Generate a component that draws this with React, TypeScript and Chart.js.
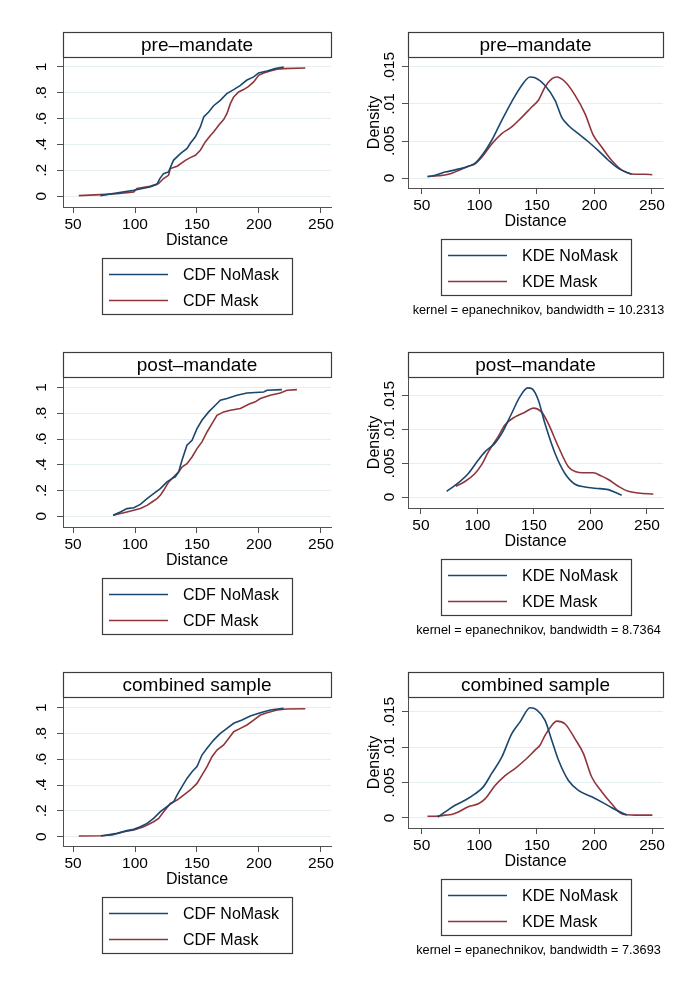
import React, { useEffect, useRef } from 'react';
import { Chart, registerables } from 'chart.js';

Chart.register(...registerables);

const FONT = '"Liberation Sans", Arial, Helvetica, sans-serif';
const BLUE = '#1a476f';
const RED = '#90353b';
const AXIS = '#505050';
const GRID = '#e5eef0';

// ---- tick labels / texts ----
const xTicks = [50, 100, 150, 200, 250];
const cdfYTicks = [0, 0.2, 0.4, 0.6, 0.8, 1];
const cdfYLabels = ['0', '.2', '.4', '.6', '.8', '1'];
const kdeYTicks = [0, 0.005, 0.01, 0.015];
const kdeYLabels = ['0', '.005', '.01', '.015'];
const panelTitles = ['pre\u2013mandate', 'post\u2013mandate', 'combined sample'];
const cdfLabels = ['CDF NoMask', 'CDF Mask'];
const kdeLabels = ['KDE NoMask', 'KDE Mask'];
const bandwidths = ['10.2313', '8.7364', '7.3693'];

// ---- pre-mandate CDF ----
const preCdfNoMaskX = [72, 99, 112, 117.7, 120, 123, 127, 131, 136.6, 142, 144.6, 148.7, 152.7, 155.4, 159.4, 163.4, 168.8, 174, 179.6, 185, 190, 195.7, 199.7, 206.5, 213, 220];
const preCdfNoMaskY = [0.005, 0.046, 0.072, 0.093, 0.137, 0.175, 0.188, 0.278, 0.33, 0.37, 0.41, 0.46, 0.536, 0.613, 0.652, 0.7, 0.742, 0.794, 0.825, 0.858, 0.897, 0.923, 0.954, 0.969, 0.987, 1.0];
const preCdfMaskX = [54.6, 72, 85.5, 99, 101.6, 112, 119, 123, 127, 128.5, 134, 140.6, 144.6, 148.7, 152.7, 156.7, 160.8, 163.4, 167.5, 171.5, 174.2, 176.9, 179.6, 183.6, 187.6, 191.7, 195.7, 199.7, 203.8, 209, 214.5, 220, 237.4];
const preCdfMaskY = [0.005, 0.013, 0.02, 0.034, 0.06, 0.077, 0.098, 0.137, 0.162, 0.214, 0.232, 0.278, 0.299, 0.317, 0.356, 0.42, 0.47, 0.497, 0.549, 0.593, 0.64, 0.716, 0.768, 0.807, 0.825, 0.85, 0.884, 0.935, 0.954, 0.969, 0.982, 0.987, 0.992];

// ---- post-mandate CDF ----
const postCdfNoMaskX = [82.3, 88.2, 93.5, 99, 104.3, 109.7, 115, 120.4, 125.8, 129.8, 132.5, 135.2, 137.9, 141.9, 146, 150, 154, 159.4, 164.8, 168.8, 174.2, 182.3, 190.3, 203.8, 206.5, 218.5];
const postCdfNoMaskY = [0.008, 0.034, 0.06, 0.067, 0.093, 0.137, 0.176, 0.215, 0.267, 0.293, 0.306, 0.345, 0.435, 0.552, 0.59, 0.681, 0.746, 0.811, 0.863, 0.902, 0.915, 0.94, 0.958, 0.966, 0.979, 0.984];
const postCdfMaskX = [82.3, 93.5, 104.3, 109.7, 113.7, 117.7, 120.4, 123.1, 127.2, 131.2, 135.2, 137.9, 141.9, 146, 150, 154, 158.1, 162.1, 166.1, 171.5, 176.9, 185, 191.7, 197, 201.1, 209.1, 217.2, 222.6, 230.6];
const postCdfMaskY = [0.008, 0.034, 0.06, 0.085, 0.111, 0.137, 0.163, 0.202, 0.267, 0.306, 0.345, 0.383, 0.409, 0.461, 0.526, 0.578, 0.655, 0.72, 0.785, 0.811, 0.824, 0.837, 0.87, 0.889, 0.915, 0.94, 0.958, 0.979, 0.984];

// ---- combined CDF ----
const allCdfNoMaskX = [72.6, 85.5, 93.5, 99, 104.3, 109.7, 115, 120.4, 125.8, 131.2, 133.9, 137.9, 141.9, 146, 150, 154, 158.1, 163.4, 168.8, 174.2, 179.6, 186.3, 193, 201.1, 209.1, 219.9];
const allCdfNoMaskY = [0.005, 0.026, 0.047, 0.057, 0.078, 0.103, 0.142, 0.194, 0.233, 0.271, 0.323, 0.388, 0.452, 0.504, 0.543, 0.633, 0.685, 0.749, 0.801, 0.84, 0.879, 0.904, 0.935, 0.961, 0.982, 0.995];
const allCdfMaskX = [54.6, 72, 81.5, 90.9, 99, 107, 115, 119.1, 123.1, 128.5, 133.9, 139.2, 144.6, 150, 154, 158.1, 162.1, 166.1, 171.5, 175.5, 179.6, 185, 190.3, 195.7, 201.1, 206.5, 214.5, 222.6, 237.4];
const allCdfMaskY = [0.005, 0.008, 0.013, 0.039, 0.052, 0.078, 0.116, 0.142, 0.194, 0.258, 0.284, 0.323, 0.362, 0.413, 0.478, 0.543, 0.62, 0.672, 0.711, 0.762, 0.814, 0.84, 0.866, 0.904, 0.943, 0.961, 0.982, 0.99, 0.992];

// ---- pre-mandate KDE ----
const preKdeNoMaskX = [55, 61.6, 70.3, 79, 90.5, 96.3, 103.5, 110.8, 119.5, 128.1, 136.8, 144, 148.4, 157.1, 165.8, 171.6, 177.4, 186, 194.7, 203.4, 212.1, 220.8, 232.3];
const preKdeNoMaskY = [0.0002, 0.00036, 0.0008, 0.0011, 0.0016, 0.002, 0.0033, 0.0051, 0.0078, 0.0103, 0.0125, 0.01365, 0.01356, 0.0125, 0.0105, 0.0082, 0.0071, 0.006, 0.0049, 0.0037, 0.0024, 0.0013, 0.0005];
const preKdeMaskX = [55, 64.5, 73.2, 81.8, 90.5, 96.3, 102.1, 110.8, 119.5, 128.1, 136.8, 145.5, 151.3, 157.1, 162.9, 167.2, 174.5, 183.1, 191.8, 199, 206.3, 214.9, 223.7, 235.2, 243.9, 250.3];
const preKdeMaskY = [0.0002, 0.0003, 0.0005, 0.001, 0.0016, 0.0019, 0.0028, 0.0046, 0.006, 0.0069, 0.0082, 0.0096, 0.0105, 0.0123, 0.0134, 0.01365, 0.013, 0.0112, 0.0087, 0.0058, 0.0042, 0.0024, 0.0011, 0.0005, 0.0005, 0.00045];

// ---- post-mandate KDE ----
const postKdeNoMaskX = [72.7, 83, 91.9, 100.7, 106.6, 115.5, 121.4, 130.2, 137.6, 144.4, 147.9, 153.8, 159.7, 168.6, 177.4, 186.3, 195.1, 204, 215.8, 221.7, 227.6];
const postKdeNoMaskY = [0.00084, 0.0021, 0.0035, 0.0055, 0.0067, 0.008, 0.0094, 0.0124, 0.0149, 0.0162, 0.0161, 0.0144, 0.0109, 0.0065, 0.0035, 0.0019, 0.0015, 0.0013, 0.0011, 0.0007, 0.00025];
const postKdeMaskX = [81, 88.9, 97.8, 103.7, 109.6, 118.4, 124.3, 133.2, 142, 149.4, 156.8, 162.7, 171.5, 180.4, 186.3, 195.1, 202.5, 209.9, 215.8, 224.6, 233.5, 242.3, 255.6];
const postKdeMaskY = [0.0016, 0.0023, 0.0035, 0.0048, 0.0067, 0.009, 0.0107, 0.0119, 0.0126, 0.0132, 0.0126, 0.0109, 0.0075, 0.0045, 0.0038, 0.0036, 0.0036, 0.0031, 0.0026, 0.0016, 0.00084, 0.0006, 0.00044];

// ---- combined KDE ----
const allKdeNoMaskX = [63.9, 70.3, 79, 87.6, 96.3, 103.5, 110.8, 119.5, 128.1, 135.4, 144.1, 149.9, 157.1, 162.9, 168.7, 177.4, 186, 197.6, 209.2, 217.9, 228];
const allKdeNoMaskY = [0.00014, 0.00085, 0.0018, 0.0025, 0.0034, 0.0044, 0.0063, 0.0086, 0.0119, 0.0136, 0.0156, 0.0153, 0.0138, 0.011, 0.0082, 0.0053, 0.0039, 0.003, 0.002, 0.0012, 0.0004];
const allKdeMaskX = [55, 61.6, 70.3, 76, 81.8, 90.5, 99.2, 105, 113.7, 122.4, 131, 139.7, 148.4, 152.7, 157.1, 162.9, 167.2, 174.5, 183.1, 190.4, 197.6, 206.3, 214.9, 223.7, 235.2, 250.3];
const allKdeMaskY = [0.00024, 0.00024, 0.0004, 0.0005, 0.00085, 0.0016, 0.002, 0.0027, 0.0046, 0.006, 0.007, 0.0082, 0.0096, 0.0103, 0.0117, 0.0131, 0.0137, 0.0133, 0.0112, 0.0091, 0.0058, 0.0037, 0.002, 0.0006, 0.0004, 0.0004];

// ---- layout (canvas placement and plot areas, canvas-relative) ----
type Spec = {
  left: number; top: number; width: number; height: number;
  areaL: number; areaT: number; areaR: number; areaB: number;
  xMin: number; xMax: number; yMin: number; yMax: number;
  kind: 'cdf' | 'kde';
  title: string;
  series: { x: number[]; y: number[] }[];
  note?: string;
};

const specs: Spec[] = [
  { left: 0, top: 0, width: 345, height: 330, areaL: 63, areaT: 57, areaR: 331, areaB: 207, xMin: 41.9, xMax: 258.1, yMin: -0.083, yMax: 1.077, kind: 'cdf', title: panelTitles[0], series: [{ x: preCdfNoMaskX, y: preCdfNoMaskY }, { x: preCdfMaskX, y: preCdfMaskY }] },
  { left: 345, top: 0, width: 350, height: 330, areaL: 63, areaT: 57, areaR: 318, areaB: 188, xMin: 38, xMax: 259.6, yMin: -0.00135, yMax: 0.01635, kind: 'kde', title: panelTitles[0], series: [{ x: preKdeNoMaskX, y: preKdeNoMaskY }, { x: preKdeMaskX, y: preKdeMaskY }], note: bandwidths[0] },
  { left: 0, top: 330, width: 345, height: 330, areaL: 63, areaT: 47, areaR: 331, areaB: 197, xMin: 41.9, xMax: 258.1, yMin: -0.083, yMax: 1.082, kind: 'cdf', title: panelTitles[1], series: [{ x: postCdfNoMaskX, y: postCdfNoMaskY }, { x: postCdfMaskX, y: postCdfMaskY }] },
  { left: 345, top: 330, width: 350, height: 330, areaL: 63, areaT: 47, areaR: 318, areaB: 178, xMin: 38.5, xMax: 264.2, yMin: -0.00163, yMax: 0.01782, kind: 'kde', title: panelTitles[1], series: [{ x: postKdeNoMaskX, y: postKdeNoMaskY }, { x: postKdeMaskX, y: postKdeMaskY }], note: bandwidths[1] },
  { left: 0, top: 660, width: 345, height: 332, areaL: 63, areaT: 37, areaR: 331, areaB: 186, xMin: 41.9, xMax: 258.1, yMin: -0.072, yMax: 1.083, kind: 'cdf', title: panelTitles[2], series: [{ x: allCdfNoMaskX, y: allCdfNoMaskY }, { x: allCdfMaskX, y: allCdfMaskY }] },
  { left: 345, top: 660, width: 350, height: 332, areaL: 63, areaT: 37, areaR: 318, areaB: 168, xMin: 38.1, xMax: 259.5, yMin: -0.00142, yMax: 0.01712, kind: 'kde', title: panelTitles[2], series: [{ x: allKdeNoMaskX, y: allKdeNoMaskY }, { x: allKdeMaskX, y: allKdeMaskY }], note: bandwidths[2] },
];

const X_AXIS_H = 43;

const decorPlugin = {
  id: 'decor',
  afterDraw(chart: any, _args: any, opts: any) {
    const { ctx, chartArea: a } = chart;
    const cx = (a.left + a.right) / 2;
    ctx.save();
    // title box
    const th = 25;
    ctx.fillStyle = '#ffffff';
    ctx.fillRect(a.left, a.top - th, a.right - a.left, th);
    ctx.strokeStyle = '#3c3c3c';
    ctx.lineWidth = 1.2;
    ctx.strokeRect(Math.round(a.left) + 0.5, Math.round(a.top - th) + 0.5, Math.round(a.right - a.left), th);
    ctx.fillStyle = '#000';
    ctx.font = `19px ${FONT}`;
    ctx.textAlign = 'center';
    ctx.textBaseline = 'middle';
    ctx.fillText(opts.title, cx, a.top - th / 2 + 1);
    // legend box
    const lw = 190, lh = 56;
    const lx = Math.round(cx - lw / 2);
    const ly = Math.round(a.bottom + 51);
    ctx.strokeStyle = '#3c3c3c';
    ctx.lineWidth = 1.2;
    ctx.strokeRect(lx + 0.5, ly + 0.5, lw, lh);
    chart.data.datasets.forEach((ds: any, i: number) => {
      const yy = ly + 16.5 + i * 26;
      ctx.strokeStyle = ds.borderColor;
      ctx.lineWidth = 1.6;
      ctx.beginPath();
      ctx.moveTo(lx + 7, yy);
      ctx.lineTo(lx + 66, yy);
      ctx.stroke();
      ctx.fillStyle = '#000';
      ctx.font = `16px ${FONT}`;
      ctx.textAlign = 'left';
      ctx.textBaseline = 'middle';
      ctx.fillText(ds.label, lx + 81, yy + 1);
    });
    if (opts.note) {
      ctx.fillStyle = '#000';
      ctx.font = `12.7px ${FONT}`;
      ctx.textAlign = 'center';
      ctx.textBaseline = 'middle';
      ctx.fillText(opts.note, cx + 3, ly + lh + 15);
    }
    ctx.restore();
  },
};

function Panel({ spec }: { spec: Spec }) {
  const ref = useRef<HTMLCanvasElement>(null);
  useEffect(() => {
    const isCdf = spec.kind === 'cdf';
    const labels = isCdf ? cdfLabels : kdeLabels;
    const yTicks = isCdf ? cdfYTicks : kdeYTicks;
    const yLabels = isCdf ? cdfYLabels : kdeYLabels;
    const colors = [BLUE, RED];
    const chart = new Chart(ref.current as HTMLCanvasElement, {
      type: 'line',
      data: {
        datasets: spec.series.map((s, i) => ({
          label: labels[i],
          data: s.x.map((x, j) => ({ x, y: s.y[j] })),
          borderColor: colors[i],
          backgroundColor: colors[i],
          borderWidth: 1.6,
          pointRadius: 0,
          fill: false,
          tension: isCdf ? 0 : 0.4,
          cubicInterpolationMode: isCdf ? 'default' : 'monotone',
        })),
      },
      options: {
        animation: false,
        responsive: false,
        maintainAspectRatio: false,
        events: [],
        layout: {
          padding: {
            left: 0,
            top: spec.areaT,
            right: spec.width - spec.areaR,
            bottom: spec.height - spec.areaB - X_AXIS_H,
          },
        },
        plugins: {
          legend: { display: false },
          tooltip: { enabled: false },
          decor: { title: spec.title, note: spec.note ? `kernel = epanechnikov, bandwidth = ${spec.note}` : '' },
        } as any,
        scales: {
          x: {
            type: 'linear',
            min: spec.xMin,
            max: spec.xMax,
            afterBuildTicks: (s: any) => { s.ticks = xTicks.map((v) => ({ value: v })); },
            afterFit: (s: any) => { s.height = X_AXIS_H; },
            ticks: { font: { family: FONT, size: 15.5 }, color: '#000', padding: 2, maxRotation: 0, autoSkip: false },
            grid: { drawOnChartArea: false, drawTicks: true, tickLength: 6, color: AXIS, tickColor: AXIS, lineWidth: 1 },
            border: { display: true, color: AXIS, width: 1 },
            title: { display: true, text: 'Distance', font: { family: FONT, size: 16 }, color: '#000', padding: 0 },
          },
          y: {
            type: 'linear',
            min: spec.yMin,
            max: spec.yMax,
            afterBuildTicks: (s: any) => { s.ticks = yTicks.map((v) => ({ value: v })); },
            afterFit: (s: any) => { s.width = spec.areaL; },
            ticks: {
              font: { family: FONT, size: 15.5 },
              color: '#000',
              minRotation: 90,
              maxRotation: 90,
              crossAlign: 'center',
              padding: isCdf ? 9 : -3,
              autoSkip: false,
              callback: (v: any) => {
                const idx = yTicks.findIndex((t) => Math.abs(t - v) < 1e-9);
                return idx >= 0 ? yLabels[idx] : '';
              },
            },
            grid: { drawOnChartArea: true, drawTicks: true, tickLength: 6, color: GRID, tickColor: AXIS, lineWidth: 1 },
            border: { display: true, color: AXIS, width: 1 },
            title: { display: !isCdf, text: 'Density', font: { family: FONT, size: 16 }, color: '#000', padding: { top: 20, bottom: 0 } },
          },
        },
      } as any,
      plugins: [decorPlugin],
    } as any);
    return () => chart.destroy();
  }, [spec]);
  return (
    <canvas
      ref={ref}
      width={spec.width}
      height={spec.height}
      style={{ position: 'absolute', left: spec.left, top: spec.top, width: spec.width, height: spec.height }}
    />
  );
}

export default function App() {
  return (
    <div style={{ position: 'absolute', left: 0, top: 0, width: 695, height: 992, background: '#ffffff', overflow: 'hidden' }}>
      {specs.map((s, i) => (
        <Panel key={i} spec={s} />
      ))}
    </div>
  );
}
